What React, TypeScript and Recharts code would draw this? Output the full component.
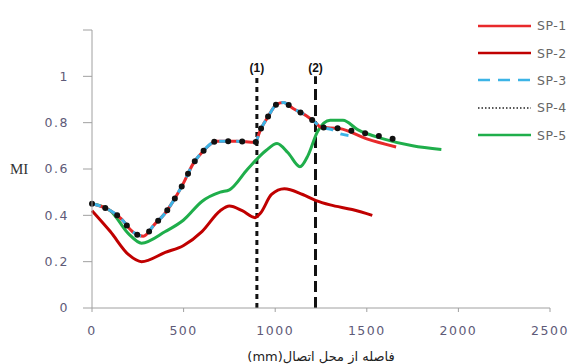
import { LineChart, Line, XAxis, YAxis, ReferenceLine, Label } from "recharts";

// distance from joint (mm) vs MI
const sp1: [number, number][] = [
  [0, 0.45], [90, 0.425], [160, 0.385], [220, 0.33], [280, 0.31], [340, 0.36], [400, 0.41],
  [450, 0.47], [500, 0.54], [550, 0.62], [610, 0.68], [680, 0.72], [790, 0.72], [890, 0.715],
  [920, 0.77], [960, 0.825], [1010, 0.88], [1045, 0.887], [1100, 0.86], [1170, 0.83],
  [1220, 0.8], [1250, 0.78], [1350, 0.775], [1500, 0.73], [1660, 0.695],
];
const sp2: [number, number][] = [
  [0, 0.42], [100, 0.33], [200, 0.23], [270, 0.2], [400, 0.24], [500, 0.27], [600, 0.33],
  [700, 0.42], [750, 0.44], [820, 0.42], [890, 0.39], [920, 0.41], [980, 0.49], [1050, 0.515],
  [1150, 0.49], [1220, 0.465], [1300, 0.445], [1420, 0.425], [1530, 0.4],
];
const sp3: [number, number][] = [
  [0, 0.45], [90, 0.425], [160, 0.385], [220, 0.33], [280, 0.31], [340, 0.36], [400, 0.41],
  [450, 0.47], [500, 0.54], [550, 0.62], [610, 0.68], [680, 0.72], [790, 0.72], [890, 0.715],
  [920, 0.77], [960, 0.825], [1010, 0.88], [1045, 0.887], [1100, 0.86], [1170, 0.83],
  [1220, 0.8], [1250, 0.78], [1310, 0.77], [1345, 0.755], [1400, 0.745],
];
const sp4: [number, number][] = [
  [0, 0.45], [90, 0.425], [160, 0.385], [220, 0.33], [280, 0.31], [340, 0.36], [400, 0.41],
  [450, 0.47], [500, 0.54], [550, 0.62], [610, 0.68], [680, 0.72], [790, 0.72], [890, 0.715],
  [920, 0.77], [960, 0.825], [1010, 0.88], [1045, 0.887], [1100, 0.86], [1170, 0.83],
  [1220, 0.8], [1250, 0.78], [1350, 0.775], [1450, 0.76], [1550, 0.745], [1645, 0.73],
];
const sp5: [number, number][] = [
  [0, 0.45], [100, 0.42], [200, 0.32], [270, 0.28], [400, 0.33], [500, 0.38], [600, 0.46],
  [700, 0.5], [750, 0.51], [850, 0.6], [950, 0.68], [1010, 0.71], [1070, 0.67], [1135, 0.61],
  [1180, 0.66], [1230, 0.76], [1300, 0.81], [1370, 0.81], [1450, 0.77], [1590, 0.73],
  [1750, 0.7], [1907, 0.684],
];

const xTicks = [0, 500, 1000, 1500, 2000, 2500];
const yTicks = [0, 0.2, 0.4, 0.6, 0.8, 1, 1.2];
const markers: [number, string][] = [
  [900, "(1)"],
  [1220, "(2)"],
];

const toPts = (arr: [number, number][]) => arr.map(([x, y]) => ({ x, y }));

const tickStyle = { fontSize: 12.5, fill: "#5e5a78", fontFamily: "DejaVu Sans", letterSpacing: 1.5 };

const legendItems = [
  { name: "SP-1", stroke: "#e8292b", dash: undefined, width: 2.5 },
  { name: "SP-2", stroke: "#c00000", dash: undefined, width: 2.5 },
  { name: "SP-3", stroke: "#3cb4e6", dash: "12 8", width: 2.5 },
  { name: "SP-4", stroke: "#222", dash: "1.5 2", width: 1.5 },
  { name: "SP-5", stroke: "#1fae4b", dash: undefined, width: 2.5 },
];

export default function App() {
  return (
    <div style={{ position: "absolute", left: 0, top: 0, width: 574, height: 364, background: "#fff" }}>
      <LineChart width={574} height={364} margin={{ top: 30, right: 24, bottom: 0, left: 0 }}>
        <XAxis
          type="number"
          dataKey="x"
          domain={[0, 2500]}
          ticks={xTicks}
          tick={tickStyle}
          tickSize={4}
          tickMargin={14}
          height={56}
          stroke="#a0a0a0"
          allowDuplicatedCategory={false}
        >
          <Label
            value="فاصله از محل اتصال(mm)"
            position="insideBottom"
            offset={3}
            style={{ fontSize: 13, fill: "#222", fontFamily: "DejaVu Sans", direction: "rtl", unicodeBidi: "plaintext" }}
          />
        </XAxis>
        <YAxis
          type="number"
          domain={[0, 1.2]}
          ticks={yTicks}
          tick={tickStyle}
          tickFormatter={(v: number) => (v > 1.1 ? "" : String(Math.round(v * 10) / 10))}
          tickSize={9}
          tickMargin={14}
          width={92}
          stroke="#a0a0a0"
        >
          <Label
            value="MI"
            position="insideLeft"
            offset={10}
            style={{ fontSize: 15, fill: "#333", fontFamily: "Liberation Serif", textAnchor: "start" }}
          />
        </YAxis>
        {markers.map(([x, name], i) => (
          <ReferenceLine
            key={name}
            segment={[
              { x, y: 0 },
              { x, y: 1 },
            ]}
            stroke="#111"
            strokeWidth={3}
            strokeDasharray={i === 0 ? "5 4" : "11 5"}
          >
            <Label
              value={name}
              position="top"
              offset={4}
              style={{ fontSize: 12, fontWeight: 700, fill: "#111", fontFamily: "Liberation Sans" }}
            />
          </ReferenceLine>
        ))}
        <Line data={toPts(sp2)} dataKey="y" type="monotone" stroke="#c00000" strokeWidth={3} dot={false} isAnimationActive={false} />
        <Line data={toPts(sp5)} dataKey="y" type="monotone" stroke="#1fae4b" strokeWidth={3} dot={false} isAnimationActive={false} />
        <Line data={toPts(sp1)} dataKey="y" type="monotone" stroke="#e8292b" strokeWidth={3} dot={false} isAnimationActive={false} />
        <Line
          data={toPts(sp3)}
          dataKey="y"
          type="monotone"
          stroke="#3cb4e6"
          strokeWidth={3}
          strokeDasharray="9 8"
          dot={false}
          isAnimationActive={false}
        />
        <Line
          data={toPts(sp4)}
          dataKey="y"
          type="monotone"
          stroke="#111"
          strokeWidth={6}
          strokeDasharray="0 14"
          strokeLinecap="round"
          dot={false}
          isAnimationActive={false}
        />
      </LineChart>
      <div style={{ position: "absolute", left: 477, top: 12, width: 97, overflow: "hidden" }}>
        {legendItems.map((it) => (
          <div key={it.name} style={{ display: "flex", alignItems: "center", height: 27.4, whiteSpace: "nowrap" }}>
            <svg width={55} height={6} style={{ flex: "none" }}>
              <line x1={1} y1={3} x2={54} y2={3} stroke={it.stroke} strokeWidth={it.width} strokeDasharray={it.dash} />
            </svg>
            <span style={{ marginLeft: 5, fontSize: 12.5, color: "#666", fontFamily: "DejaVu Sans", letterSpacing: 0.5 }}>
              {it.name}
            </span>
          </div>
        ))}
      </div>
    </div>
  );
}
